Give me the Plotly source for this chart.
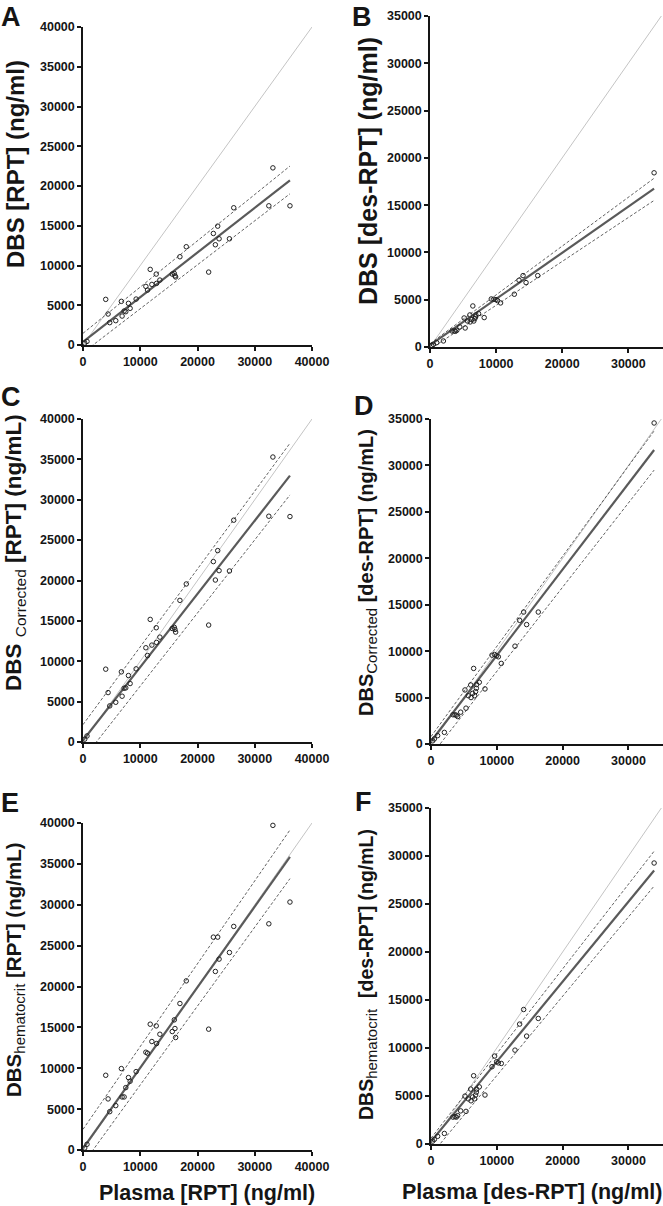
import plotly.graph_objects as go

# ---------------- data ----------------
plasma_rpt = [300, 700, 3970, 4380, 4670, 5720, 6700, 6830, 7180, 7470, 7940, 8230, 9280,
              10980, 11270, 11740, 12030, 12790, 12850, 13430, 15590, 15950, 16060, 16180,
              16930, 18040, 21950, 22770, 23120, 23530, 23770, 25580, 26330, 32460, 33170, 36150]
dbs_rpt = [250, 450, 5740, 3900, 2810, 3060, 5490, 3640, 4270, 4190, 5240, 4610, 5780,
           7370, 6910, 9510, 7620, 8920, 7750, 8170, 8920, 9000, 8700, 8560,
           11100, 12360, 9170, 14030, 12610, 14950, 13360, 13360, 17260, 17510, 22280, 17510]
dbs_corr_rpt = [350, 750, 9020, 6120, 4470, 4920, 8690, 5670, 6660, 6700, 8230, 7240, 9060,
                11670, 10710, 15180, 12000, 14150, 12330, 12990, 14060, 14200, 13940, 13610,
                17540, 19570, 14480, 22340, 20060, 23700, 21220, 21180, 27470, 27960, 35290, 27920]
dbs_hct_rpt = [250, 700, 9140, 6250, 4690, 5430, 9960, 6490, 6490, 7630, 8860, 8410, 9590,
               11960, 11840, 15390, 13270, 15180, 13020, 14160, 14490, 15920, 14860, 13760,
               17920, 20690, 14780, 26040, 21840, 26040, 23350, 24160, 27350, 27670, 39710, 30330]

plasma_des = [250, 510, 1010, 2030, 3340, 3650, 3850, 4050, 4510, 5160, 5320, 5670, 6030,
              6080, 6330, 6480, 6630, 6780, 6890, 6940, 7340, 8200, 9270, 9670, 9970, 10230,
              10680, 12760, 13470, 14080, 14530, 16300, 33900]
dbs_des = [180, 280, 460, 640, 1690, 1690, 1660, 1760, 2120, 3070, 2010, 2750, 3390,
           2650, 2890, 4340, 2750, 3000, 3180, 3390, 3530, 3110, 5080, 5050, 5010, 4900,
           4660, 5580, 7060, 7550, 6810, 7550, 18420]
dbs_corr_des = [340, 550, 900, 1250, 3150, 3140, 3100, 2960, 3430, 5820, 3860, 5200, 6360,
                5000, 5450, 8140, 5200, 5650, 6000, 6400, 6650, 5930, 9570, 9640, 9500, 9390,
                8680, 10540, 13320, 14210, 12860, 14210, 34570]
dbs_hct_des = [300, 480, 800, 1100, 2800, 2850, 2800, 2950, 3450, 4990, 3400, 4700, 5720,
               4500, 4900, 7110, 4700, 5100, 5400, 5700, 5950, 5100, 8050, 9160, 8570, 8450,
               8390, 9780, 12490, 14010, 11240, 13080, 29270]

# regression lines [intercept, slope]
fit_A, up_A, lo_A = [400, 0.562], [1470, 0.582], [-970, 0.553]
fit_B, up_B, lo_B = [200, 0.488], [350, 0.516], [-232, 0.464]
fit_C, up_C, lo_C = [200, 0.907], [2150, 0.964], [-2120, 0.905]
fit_D, up_D, lo_D = [300, 0.925], [800, 0.971], [-1250, 0.907]
fit_E, up_E, lo_E = [200, 0.986], [2530, 1.013], [-1690, 0.965]
fit_F, up_F, lo_F = [250, 0.833], [600, 0.882], [-1130, 0.826]

W, H = 663, 1206
FONT = "Liberation Sans, Arial, sans-serif"
INK = "#151515"


def sub(word, size=15):
    return f"<sub><span style='font-size:{size}px;font-weight:normal'>{word}</span></sub>"


panels = [
    dict(letter="A", x=plasma_rpt, y=dbs_rpt, fit=fit_A, up=up_A, lo=lo_A,
         px=(83, 312), py=(27, 345), xr=[0, 40000], yr=[0, 40000],
         xt=[0, 10000, 20000, 30000, 40000], yt=list(range(0, 40001, 5000)),
         title="DBS [RPT] (ng/ml)", tsize=24, tc=(15, 164), lc=(11, 0), top=True),
    dict(letter="B", x=plasma_des, y=dbs_des, fit=fit_B, up=up_B, lo=lo_B,
         px=(430, 663), py=(16, 347), xr=[0, 35250], yr=[0, 35000],
         xt=[0, 10000, 20000, 30000], yt=list(range(0, 35001, 5000)),
         title="DBS [des-RPT] (ng/ml)", tsize=25, tc=(368, 171), lc=(362, 0), top=True),
    dict(letter="C", x=plasma_rpt, y=dbs_corr_rpt, fit=fit_C, up=up_C, lo=lo_C,
         px=(83, 312), py=(419, 742), xr=[0, 40000], yr=[0, 40000],
         xt=[0, 10000, 20000, 30000, 40000], yt=list(range(0, 40001, 5000)),
         title="DBS " + sub("Corrected", 15.5) + " [RPT] (ng/mL)",
         tsize=22.5, tc=(15, 553), lc=(11, 397), top=False),
    dict(letter="D", x=plasma_des, y=dbs_corr_des, fit=fit_D, up=up_D, lo=lo_D,
         px=(431, 663), py=(419, 744), xr=[0, 35250], yr=[0, 35000],
         xt=[0, 10000, 20000, 30000], yt=list(range(0, 35001, 5000)),
         title="DBS" + sub("Corrected", 15) + " [des-RPT] (ng/mL)",
         tsize=20, tc=(367, 573), lc=(364, 406), top=False),
    dict(letter="E", x=plasma_rpt, y=dbs_hct_rpt, fit=fit_E, up=up_E, lo=lo_E,
         px=(83, 312), py=(823, 1150), xr=[0, 40000], yr=[0, 40000],
         xt=[0, 10000, 20000, 30000, 40000], yt=list(range(0, 40001, 5000)),
         title="DBS" + sub("hematocrit", 15) + " [RPT] (ng/mL)",
         tsize=20.5, tc=(15, 970), lc=(10, 803), top=False),
    dict(letter="F", x=plasma_des, y=dbs_hct_des, fit=fit_F, up=up_F, lo=lo_F,
         px=(431, 663), py=(808, 1144), xr=[0, 35250], yr=[0, 35000],
         xt=[0, 10000, 20000, 30000], yt=list(range(0, 35001, 5000)),
         title="DBS" + sub("hematocrit", 15) + "&nbsp; [des-RPT] (ng/mL)",
         tsize=19.5, tc=(367, 975), lc=(363, 802), top=False),
]

fig = go.Figure()
annotations = []
layout_axes = {}

for i, p in enumerate(panels):
    n = "" if i == 0 else str(i + 1)
    xa, ya = "x" + n, "y" + n
    xmax = max(p["x"])
    # identity line
    idv = [0, p["xr"][1] + 1000]
    fig.add_trace(go.Scatter(x=idv, y=idv, mode="lines", xaxis=xa, yaxis=ya,
                             line=dict(color="#c4c4c4", width=1), hoverinfo="skip"))
    xs = [0, xmax]
    for par, style in ((p["up"], dict(color="#3a3a3a", width=0.8, dash="3px,2px")),
                       (p["lo"], dict(color="#3a3a3a", width=0.8, dash="3px,2px")),
                       (p["fit"], dict(color="#5a5a5a", width=2.2))):
        fig.add_trace(go.Scatter(x=xs, y=[par[0] + par[1] * v for v in xs], mode="lines",
                                 xaxis=xa, yaxis=ya, line=style, hoverinfo="skip"))
    fig.add_trace(go.Scatter(x=p["x"], y=p["y"], mode="markers", xaxis=xa, yaxis=ya,
                             cliponaxis=False,
                             marker=dict(symbol="circle-open", size=4.5, color="#222222",
                                         line=dict(color="#222222", width=1))))

    axcommon = dict(showgrid=False, zeroline=False, showline=True, linecolor=INK,
                    linewidth=1.5, ticks="outside", ticklen=4, tickwidth=1.5,
                    tickcolor=INK, tickformat="d", automargin=False,
                    tickfont=dict(family=FONT, size=12.5, color=INK, weight="bold"))
    layout_axes["xaxis" + n] = dict(axcommon, domain=[p["px"][0] / W, p["px"][1] / W],
                                    range=p["xr"], tickvals=p["xt"],
                                    anchor=ya, fixedrange=True)
    layout_axes["yaxis" + n] = dict(axcommon, domain=[1 - p["py"][1] / H, 1 - p["py"][0] / H],
                                    range=p["yr"], tickvals=p["yt"],
                                    anchor=xa, fixedrange=True)
    annotations.append(dict(text=p["title"], x=p["tc"][0] / W, y=1 - p["tc"][1] / H,
                            xref="paper", yref="paper", textangle=-90, showarrow=False,
                            xanchor="center", yanchor="middle",
                            font=dict(family=FONT, size=p["tsize"], color=INK, weight="bold")))
    annotations.append(dict(text=p["letter"], x=p["lc"][0] / W, y=1 - p["lc"][1] / H,
                            xref="paper", yref="paper", showarrow=False,
                            xanchor="center", yanchor="top" if p["top"] else "middle",
                            font=dict(family=FONT, size=27, color=INK, weight="bold")))

annotations.append(dict(text="Plasma [RPT] (ng/ml)", x=207 / W, y=1 - 1193 / H,
                        xref="paper", yref="paper", showarrow=False,
                        xanchor="center", yanchor="middle",
                        font=dict(family=FONT, size=21.5, color=INK, weight="bold")))
annotations.append(dict(text="Plasma [des-RPT] (ng/ml)", x=532 / W, y=1 - 1192 / H,
                        xref="paper", yref="paper", showarrow=False,
                        xanchor="center", yanchor="middle",
                        font=dict(family=FONT, size=21.5, color=INK, weight="bold")))

fig.update_layout(width=W, height=H, margin=dict(l=0, r=0, t=0, b=0, autoexpand=False),
                  paper_bgcolor="white", plot_bgcolor="white", showlegend=False,
                  annotations=annotations, **layout_axes)

fig.write_html("out.html", config={"displayModeBar": False},
               post_script="document.body.style.margin='0';")
